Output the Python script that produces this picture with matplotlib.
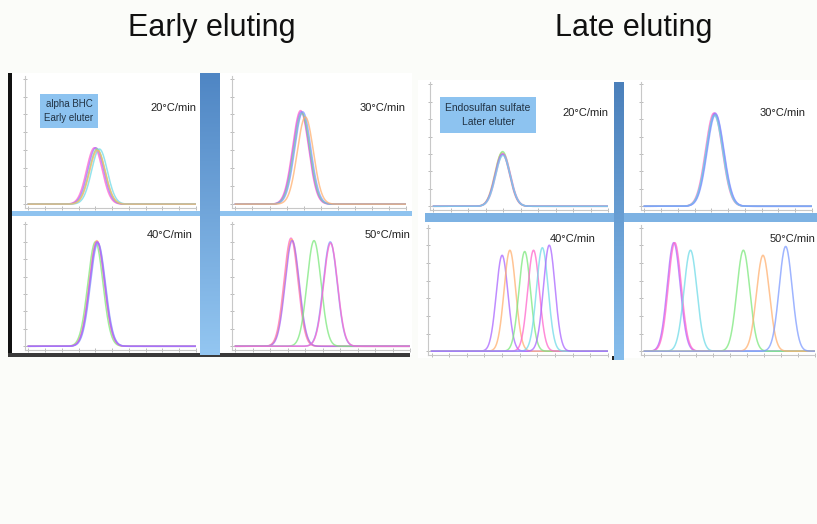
import numpy as np
import matplotlib
matplotlib.use("Agg")
import matplotlib.pyplot as plt
from matplotlib.patches import Rectangle
from matplotlib.colors import LinearSegmentedColormap

W, H = 817, 524

# peak data (retention position, height, colour)
pink, purple, blue, green, orange, cyan = "#ff66cc", "#aa66ff", "#7f9cff", "#7de87d", "#ffb070", "#70dbe8"

early_20_centers = [3.94, 4.02, 4.10, 4.24, 4.12]
early_20_heights = [44, 44, 43, 43, 42]
early_20_colors = [pink, purple, green, cyan, orange]

early_30_centers = [3.82, 3.86, 3.90, 3.95, 4.10]
early_30_heights = [73, 72, 71, 72, 68]
early_30_colors = [pink, purple, green, blue, orange]

early_40_centers = [4.00, 4.08, 4.12, 4.15, 4.10]
early_40_heights = [84, 85, 84, 83, 84]
early_40_colors = [green, orange, pink, blue, purple]

early_50_centers = [3.18, 3.22, 3.25, 4.50, 5.43, 5.45]
early_50_heights = [87, 86, 85, 85, 84, 83]
early_50_colors = [pink, orange, purple, green, blue, pink]

late_20_centers = [3.93, 3.96, 3.99, 3.95, 3.98]
late_20_heights = [43, 44, 42, 42, 41]
late_20_colors = [orange, green, pink, purple, cyan]

late_30_centers = [4.15, 4.20, 4.22, 4.18, 4.25]
late_30_heights = [75, 74, 75, 73, 74]
late_30_colors = [pink, green, purple, cyan, blue]

late_40_centers = [4.00, 4.44, 5.28, 5.78, 6.28, 6.67]
late_40_heights = [76, 80, 79, 80, 82, 84]
late_40_colors = [purple, orange, green, pink, cyan, purple]

late_50_centers = [1.72, 1.78, 2.70, 5.80, 6.95, 8.28]
late_50_heights = [86, 86, 80, 80, 76, 83]
late_50_colors = [purple, pink, cyan, green, orange, blue]

rate_labels = ["20°C/min", "30°C/min", "40°C/min", "50°C/min"]


def px_rect(x0, y0, x1, y1):
    return [x0 / W, 1 - y1 / H, (x1 - x0) / W, (y1 - y0) / H]


def panel(fig, box, centers, heights, colors, sigma, label, label_xy):
    ax = fig.add_axes(px_rect(*box))
    x = np.linspace(0, 10, 500)
    for c, h, col in zip(centers, heights, colors):
        ax.plot(x, h * np.exp(-0.5 * ((x - c) / sigma) ** 2), color=col, lw=1.1, alpha=0.75)
    ax.set_xlim(-0.2, 10)
    ax.set_ylim(-3, 100)
    ax.set_facecolor("white")
    for s in ["top", "right"]:
        ax.spines[s].set_visible(False)
    for s in ["left", "bottom"]:
        ax.spines[s].set_color("#c8c8c8")
        ax.spines[s].set_linewidth(0.8)
    ax.set_xticks(np.arange(0, 10.1, 1))
    ax.set_yticks(np.arange(0, 101, 14))
    ax.tick_params(length=3, width=0.6, color="#b0b0b0", direction="inout",
                   labelleft=False, labelbottom=False)
    ax.text(label_xy[0], label_xy[1], label, transform=ax.transAxes, fontsize=8,
            family="Liberation Sans", color="#222222", ha="right", va="center")
    return ax


def gradient_bar(fig, box, c_top, c_bottom):
    ax = fig.add_axes(px_rect(*box))
    cmap = LinearSegmentedColormap.from_list("bar", [c_top, c_bottom])
    ax.imshow(np.linspace(0, 1, 100).reshape(-1, 1), aspect="auto", cmap=cmap)
    ax.axis("off")


fig = plt.figure(figsize=(W / 100, H / 100), dpi=100)
fig.patch.set_facecolor("#fbfcf9")

# background layer in pixel coordinates for frames and separator bars
bg = fig.add_axes([0, 0, 1, 1])
bg.set_xlim(0, W)
bg.set_ylim(H, 0)
bg.axis("off")


def block(x0, y0, x1, y1, color):
    bg.add_patch(Rectangle((x0, y0), x1 - x0, y1 - y0, facecolor=color, edgecolor="none"))


block(8, 73, 412, 355, "white")
block(418, 80, 817, 358, "white")
block(8, 211, 412, 216, "#8fc3ef")
block(425, 213, 817, 222, "#7db2e3")
block(8, 73, 12, 355, "#111111")
block(8, 353, 410, 357, "#3a3a3a")
block(612, 356, 619, 360, "#222222")

bg.text(212, 28, "Early eluting", fontsize=22, family="Liberation Sans",
        ha="center", va="center", color="#111111")
bg.text(634, 28, "Late eluting", fontsize=22, family="Liberation Sans",
        ha="center", va="center", color="#111111")

# early eluting
panel(fig, (25, 76, 196, 208), early_20_centers, early_20_heights, early_20_colors, 0.47,
      rate_labels[0], (1.0, 0.76))
panel(fig, (232, 76, 406, 208), early_30_centers, early_30_heights, early_30_colors, 0.47,
      rate_labels[1], (1.0, 0.76))
panel(fig, (25, 222, 196, 350), early_40_centers, early_40_heights, early_40_colors, 0.45,
      rate_labels[2], (0.98, 0.9))
panel(fig, (232, 222, 410, 350), early_50_centers, early_50_heights, early_50_colors, 0.40,
      rate_labels[3], (1.0, 0.9))

# late eluting
panel(fig, (430, 82, 608, 210), late_20_centers, late_20_heights, late_20_colors, 0.42,
      rate_labels[0], (1.0, 0.76))
panel(fig, (641, 82, 812, 210), late_30_centers, late_30_heights, late_30_colors, 0.50,
      rate_labels[1], (0.96, 0.76))
panel(fig, (428, 225, 608, 355), late_40_centers, late_40_heights, late_40_colors, 0.33,
      rate_labels[2], (0.93, 0.89))
panel(fig, (641, 225, 815, 355), late_50_centers, late_50_heights, late_50_colors, 0.38,
      rate_labels[3], (1.0, 0.89))

gradient_bar(fig, (200, 73, 220, 355), "#4f86c4", "#93c6f1")
gradient_bar(fig, (614, 82, 624, 360), "#4b80bb", "#86bdec")

# compound label boxes
fig.text(69 / W, 1 - 111 / H, "alpha BHC\nEarly eluter", fontsize=7, family="Liberation Sans",
         ha="center", va="center", linespacing=1.6, color="#223344",
         bbox=dict(boxstyle="square,pad=0.5", facecolor="#8dc3f0", edgecolor="none"))
fig.text(488 / W, 1 - 115 / H, "Endosulfan sulfate\nLater eluter", fontsize=7.5,
         family="Liberation Sans", ha="center", va="center", linespacing=1.6, color="#223344",
         bbox=dict(boxstyle="square,pad=0.5", facecolor="#8dc3f0", edgecolor="none"))

fig.savefig("out.png", dpi=100, facecolor=fig.get_facecolor())
